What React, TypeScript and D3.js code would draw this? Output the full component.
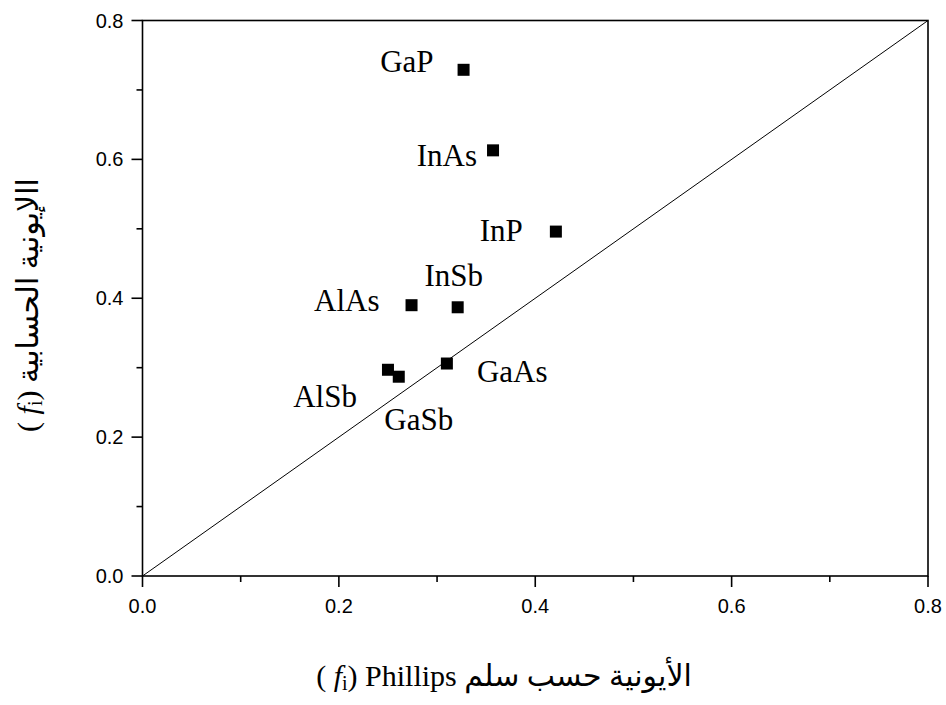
import React, { useEffect, useRef } from "react";
import * as d3 from "d3";

// compounds and their two ionicity values
const compounds = ["GaP", "InAs", "InP", "AlAs", "InSb", "AlSb", "GaSb", "GaAs"];
const phillips = [0.327, 0.357, 0.421, 0.274, 0.321, 0.250, 0.261, 0.310];
const computed = [0.729, 0.613, 0.496, 0.390, 0.387, 0.297, 0.287, 0.306];

const majorTicks = [0, 0.2, 0.4, 0.6, 0.8];
const minorTicks = [0.1, 0.3, 0.5, 0.7];

// label offsets relative to point (px)
const labelDx = [-30, -16, -33, -32, -4, -31, 20, 30];
const labelDy = [2, 16, 9, 6, -21, 37, 53, 18];
const labelAnchor = ["end", "end", "end", "end", "middle", "end", "middle", "start"];

function App() {
  const ref = useRef<SVGSVGElement | null>(null);

  useEffect(() => {
    if (!ref.current) return;
    const svg = d3.select(ref.current);
    svg.selectAll("*").remove();

    const left = 142.5, right = 928, top = 20.5, bottom = 576;
    const x = d3.scaleLinear().domain([0, 0.8]).range([left, right]);
    const y = d3.scaleLinear().domain([0, 0.8]).range([bottom, top]);

    // frame
    svg.append("rect")
      .attr("x", left).attr("y", top)
      .attr("width", right - left).attr("height", bottom - top)
      .attr("fill", "none").attr("stroke", "black").attr("stroke-width", 1.6);

    // x ticks
    svg.selectAll(".xmaj").data(majorTicks).enter().append("line")
      .attr("x1", d => x(d)).attr("x2", d => x(d))
      .attr("y1", bottom).attr("y2", bottom + 11)
      .attr("stroke", "black").attr("stroke-width", 1.6);
    svg.selectAll(".xmin").data(minorTicks).enter().append("line")
      .attr("x1", d => x(d)).attr("x2", d => x(d))
      .attr("y1", bottom).attr("y2", bottom + 6)
      .attr("stroke", "black").attr("stroke-width", 1.6);
    svg.selectAll(".xlab").data(majorTicks).enter().append("text")
      .attr("x", d => x(d)).attr("y", bottom + 37)
      .attr("text-anchor", "middle")
      .attr("font-family", "'Liberation Sans', Arial, sans-serif")
      .attr("font-size", 20)
      .text(d => d.toFixed(1));

    // y ticks
    svg.selectAll(".ymaj").data(majorTicks).enter().append("line")
      .attr("x1", left - 11).attr("x2", left)
      .attr("y1", d => y(d)).attr("y2", d => y(d))
      .attr("stroke", "black").attr("stroke-width", 1.6);
    svg.selectAll(".ymin").data(minorTicks).enter().append("line")
      .attr("x1", left - 6).attr("x2", left)
      .attr("y1", d => y(d)).attr("y2", d => y(d))
      .attr("stroke", "black").attr("stroke-width", 1.6);
    svg.selectAll(".ylab").data(majorTicks).enter().append("text")
      .attr("x", left - 19).attr("y", d => y(d))
      .attr("dy", "0.35em")
      .attr("text-anchor", "end")
      .attr("font-family", "'Liberation Sans', Arial, sans-serif")
      .attr("font-size", 20)
      .text(d => d.toFixed(1));

    // diagonal y = x
    svg.append("line")
      .attr("x1", x(0)).attr("y1", y(0))
      .attr("x2", x(0.8)).attr("y2", y(0.8))
      .attr("stroke", "black").attr("stroke-width", 1);

    const pts = compounds.map((c, i) => ({ name: c, px: phillips[i], fi: computed[i], i }));

    svg.selectAll(".pt").data(pts).enter().append("rect")
      .attr("x", d => x(d.px) - 6).attr("y", d => y(d.fi) - 6)
      .attr("width", 12).attr("height", 12)
      .attr("fill", "black");

    svg.selectAll(".plab").data(pts).enter().append("text")
      .attr("x", d => x(d.px) + labelDx[d.i])
      .attr("y", d => y(d.fi) + labelDy[d.i])
      .attr("text-anchor", d => labelAnchor[d.i])
      .attr("font-family", "'Liberation Serif', 'Times New Roman', serif")
      .attr("font-size", 31)
      .text(d => d.name);

    // x title
    const xt = svg.append("text")
      .attr("x", 504).attr("y", 686)
      .attr("text-anchor", "middle")
      .attr("font-family", "'Liberation Serif', 'Times New Roman', 'DejaVu Sans', serif")
      .attr("font-size", 30)
      .attr("direction", "ltr");
    xt.append("tspan").text("( ");
    xt.append("tspan").attr("font-style", "italic").text("f");
    xt.append("tspan").attr("font-size", 20).attr("dy", 4).text("i");
    xt.append("tspan").attr("dy", -4).text(") Phillips ");
    xt.append("tspan").text("الأيونية حسب سلم");

    // y title
    const yt = svg.append("text")
      .attr("transform", `translate(38, 305) rotate(-90)`)
      .attr("text-anchor", "middle")
      .attr("font-family", "'Liberation Serif', 'Times New Roman', 'DejaVu Sans', serif")
      .attr("font-size", 30)
      .attr("direction", "ltr");
    yt.append("tspan").text("( ");
    yt.append("tspan").attr("font-style", "italic").text("f");
    yt.append("tspan").attr("font-size", 20).attr("dy", 4).text("i");
    yt.append("tspan").attr("dy", -4).text(") ");
    yt.append("tspan").text("االإيونية الحسابية");
  }, []);

  return (
    <svg ref={ref} width={946} height={705} style={{ position: "absolute", left: 0, top: 0, background: "white" }} />
  );
}

export default App;
